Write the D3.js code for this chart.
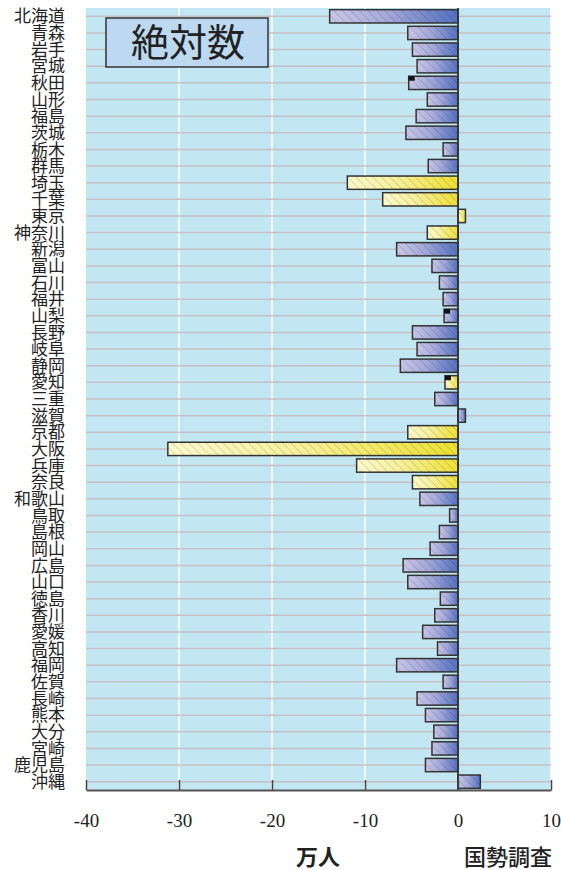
<!DOCTYPE html>
<html>
<head>
<meta charset="utf-8">
<script src="https://cdn.jsdelivr.net/npm/d3@7"></script>
<style>
  body { margin: 0; background: #fff; }
</style>
</head>
<body>
<svg id="chart" width="561" height="870"></svg>
<script>
// prefecture names, north to south
var prefs = ["北海道","青森","岩手","宮城","秋田","山形","福島","茨城","栃木","群馬",
  "埼玉","千葉","東京","神奈川","新潟","富山","石川","福井","山梨","長野",
  "岐阜","静岡","愛知","三重","滋賀","京都","大阪","兵庫","奈良","和歌山",
  "鳥取","島根","岡山","広島","山口","徳島","香川","愛媛","高知","福岡",
  "佐賀","長崎","熊本","大分","宮崎","鹿児島","沖縄"];

// change, 万人
var values = [-13.8,-5.4,-4.9,-4.4,-5.3,-3.3,-4.5,-5.6,-1.6,-3.2,
  -11.9,-8.1,0.8,-3.3,-6.6,-2.8,-2.0,-1.6,-1.5,-4.9,
  -4.4,-6.2,-1.4,-2.5,0.8,-5.4,-31.2,-10.9,-4.9,-4.1,
  -0.9,-2.0,-3.0,-5.9,-5.4,-1.9,-2.5,-3.8,-2.2,-6.6,
  -1.6,-4.4,-3.5,-2.6,-2.8,-3.5,2.4];

// metropolitan-area prefectures drawn in yellow
var yellowPrefs = ["埼玉","千葉","東京","神奈川","愛知","京都","大阪","兵庫","奈良"];
// bars with the small black corner mark
var markedPrefs = ["秋田","山梨","愛知"];

var xTicks = [-40, -30, -20, -10, 0, 10];

var svg = d3.select("#chart");
var width = +svg.attr("width");
var height = +svg.attr("height");

// plot box (note: "top" is taken by window.top)
var plotLeft = 86, plotRight = 551, plotTop = 8, plotBottom = 790;

var xScale = d3.scaleLinear().domain([-40, 10]).range([plotLeft, plotRight]);
var yScale = d3.scaleBand().domain(prefs).range([plotTop, plotBottom])
  .paddingInner(0.2).paddingOuter(0.1);

var data = prefs.map(function (p, i) {
  return { name: p, value: values[i], yellow: yellowPrefs.indexOf(p) >= 0, marked: markedPrefs.indexOf(p) >= 0 };
});

// gradients + hatching
var defs = svg.append("defs");
function grad(id, c0, c1, c2) {
  var g = defs.append("linearGradient").attr("id", id)
    .attr("x1", "0").attr("y1", "0").attr("x2", "1").attr("y2", "0");
  g.append("stop").attr("offset", "0").attr("stop-color", c0);
  g.append("stop").attr("offset", "0.45").attr("stop-color", c1);
  g.append("stop").attr("offset", "1").attr("stop-color", c2);
}
grad("gBlue", "#c9c7e7", "#a4a8d8", "#5270c0");
grad("gYellow", "#fcf9cc", "#f7f09a", "#ede030");

var hatch = defs.append("pattern").attr("id", "hatch")
  .attr("patternUnits", "userSpaceOnUse")
  .attr("width", 6).attr("height", 6)
  .attr("patternTransform", "rotate(-45)");
hatch.append("line").attr("x1", 0).attr("y1", 0).attr("x2", 0).attr("y2", 6)
  .attr("stroke", "rgba(30,30,60,0.25)").attr("stroke-width", 1.2);

// plot background
svg.append("rect")
  .attr("x", plotLeft).attr("y", plotTop)
  .attr("width", plotRight - plotLeft).attr("height", plotBottom - plotTop)
  .attr("fill", "#c3e7f2");

// white vertical grid lines
svg.append("g").selectAll("line")
  .data([-30, -20, -10, 10])
  .enter().append("line")
  .attr("x1", function (d) { return xScale(d); })
  .attr("x2", function (d) { return xScale(d); })
  .attr("y1", plotTop).attr("y2", plotBottom)
  .attr("stroke", "#ffffff").attr("stroke-width", 1.5);

// horizontal grid lines through each row
svg.append("g").selectAll("line")
  .data(prefs)
  .enter().append("line")
  .attr("x1", plotLeft).attr("x2", plotRight)
  .attr("y1", function (d) { return yScale(d) + yScale.bandwidth() / 2; })
  .attr("y2", function (d) { return yScale(d) + yScale.bandwidth() / 2; })
  .attr("stroke", "#c6c0c6").attr("stroke-width", 1.5);

// bars
var bars = svg.append("g");
function barX(d) { return xScale(Math.min(0, d.value)); }
function barW(d) { return Math.abs(xScale(d.value) - xScale(0)); }

bars.selectAll("rect.fill")
  .data(data)
  .enter().append("rect")
  .attr("class", "fill")
  .attr("x", barX)
  .attr("y", function (d) { return yScale(d.name); })
  .attr("width", barW)
  .attr("height", yScale.bandwidth())
  .attr("fill", function (d) { return d.yellow ? "url(#gYellow)" : "url(#gBlue)"; });

bars.selectAll("rect.hatch")
  .data(data)
  .enter().append("rect")
  .attr("class", "hatch")
  .attr("x", barX)
  .attr("y", function (d) { return yScale(d.name); })
  .attr("width", barW)
  .attr("height", yScale.bandwidth())
  .attr("fill", "url(#hatch)")
  .attr("stroke", "#333")
  .attr("stroke-width", 1.5);

// small black marks at the top-left corner of some bars
bars.selectAll("rect.mark")
  .data(data.filter(function (d) { return d.marked; }))
  .enter().append("rect")
  .attr("class", "mark")
  .attr("x", function (d) { return xScale(d.value); })
  .attr("y", function (d) { return yScale(d.name); })
  .attr("width", 6).attr("height", 4.5)
  .attr("fill", "#111");

// zero line
svg.append("line")
  .attr("x1", xScale(0)).attr("x2", xScale(0))
  .attr("y1", plotTop).attr("y2", plotBottom)
  .attr("stroke", "#333").attr("stroke-width", 1.8);

// x axis, ticks pointing up, plain hyphen minus
var bottomAxis = d3.axisBottom(xScale)
  .tickValues(xTicks)
  .tickFormat(function (d) { return String(d); })
  .tickSizeInner(-10).tickSizeOuter(0)
  .tickPadding(24);
var axisG = svg.append("g")
  .attr("transform", "translate(0," + plotBottom + ")")
  .call(bottomAxis);
axisG.attr("font-family", "Liberation Serif").attr("font-size", 19);
axisG.select(".domain").attr("stroke", "#555").attr("stroke-width", 2);
axisG.selectAll(".tick line").attr("stroke", "#444").attr("stroke-width", 1.5);
axisG.selectAll(".tick text")
  .style("font-family", "'Liberation Serif', 'DejaVu Serif', serif")
  .style("font-size", "19px")
  .attr("fill", "#222");

// prefecture labels
svg.append("g").selectAll("text")
  .data(prefs)
  .enter().append("text")
  .attr("x", 65)
  .attr("y", function (d) { return yScale(d) + yScale.bandwidth() / 2; })
  .attr("dy", "0.36em")
  .attr("text-anchor", "end")
  .attr("font-family", "'Noto Sans CJK JP', sans-serif")
  .attr("font-size", 17)
  .attr("fill", "#222")
  .text(function (d) { return d; });

// title box
svg.append("rect")
  .attr("x", 106).attr("y", 18)
  .attr("width", 162).attr("height", 49)
  .attr("fill", "#bcd9f1")
  .attr("stroke", "#333").attr("stroke-width", 1.5);
svg.append("text")
  .attr("x", 188).attr("y", 42)
  .attr("dy", "0.36em")
  .attr("text-anchor", "middle")
  .attr("font-family", "'Noto Sans CJK JP', sans-serif")
  .attr("font-size", 38)
  .attr("fill", "#222")
  .text("絶対数");

// unit label and source
svg.append("text")
  .attr("x", 318).attr("y", 857)
  .attr("dy", "0.36em")
  .attr("text-anchor", "middle")
  .attr("font-family", "'Noto Sans CJK JP', sans-serif")
  .attr("font-weight", 700)
  .attr("font-size", 22)
  .attr("fill", "#222")
  .text("万人");
svg.append("text")
  .attr("x", 508).attr("y", 857)
  .attr("dy", "0.36em")
  .attr("text-anchor", "middle")
  .attr("font-family", "'Noto Sans CJK JP', sans-serif")
  .attr("font-weight", 500)
  .attr("font-size", 22)
  .attr("fill", "#222")
  .text("国勢調査");
</script>
</body>
</html>
